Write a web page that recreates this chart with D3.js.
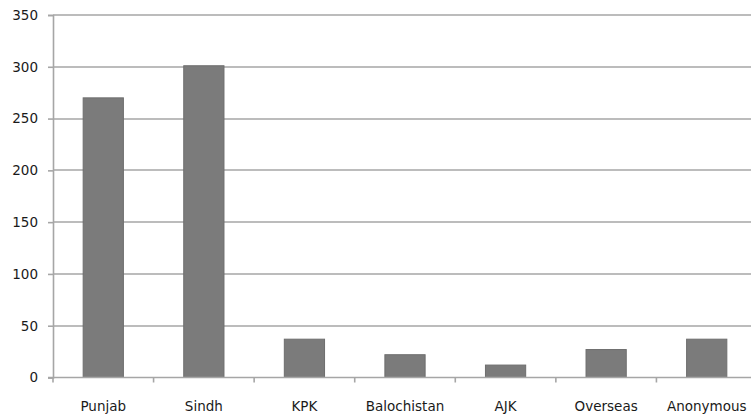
<!DOCTYPE html>
<html>
<head>
<meta charset="utf-8">
<script src="https://cdn.jsdelivr.net/npm/d3@7"></script>
<style>
  html, body { margin: 0; padding: 0; background: #fff; }
  svg { display: block; }
  .tick text { font-family: "DejaVu Sans", Verdana, sans-serif; font-size: 13.5px; fill: #1a1a1a; }
</style>
</head>
<body>
<svg id="chart" width="751" height="419"></svg>
<script>
// Complaints by region
const categories = ["Punjab", "Sindh", "KPK", "Balochistan", "AJK", "Overseas", "Anonymous"];
const values = [270, 301, 37, 22, 12, 27, 37];
const yTicks = [0, 50, 100, 150, 200, 250, 300, 350];

const svg = d3.select("#chart");
const margin = { left: 53, top: 15, bottom: 41 };
const plotRight = 757;
const height = 419;

const x = d3.scaleBand()
  .domain(categories)
  .range([margin.left, plotRight])
  .paddingInner(0.6)
  .paddingOuter(0.3);

const y = d3.scaleLinear()
  .domain([0, 350])
  .range([height - margin.bottom - 0.5, margin.top]);

// Horizontal gridlines
svg.append("g")
  .selectAll("line")
  .data(yTicks.filter(d => d > 0))
  .join("line")
  .attr("x1", margin.left)
  .attr("x2", 751)
  .attr("y1", d => Math.round(y(d)))
  .attr("y2", d => Math.round(y(d)))
  .attr("stroke", "#a6a6a6")
  .attr("stroke-width", 1.6);

// Bars
svg.append("g")
  .selectAll("rect")
  .data(categories.map((c, i) => ({ c, v: values[i] })))
  .join("rect")
  .attr("x", d => x(d.c))
  .attr("width", x.bandwidth())
  .attr("y", d => y(d.v))
  .attr("height", d => y(0) - y(d.v))
  .attr("fill", "#7b7b7b")
  .attr("stroke", "#6e6e6e")
  .attr("stroke-width", 1);

// Y axis
const yAxis = svg.append("g")
  .attr("transform", `translate(${margin.left},0)`)
  .call(d3.axisLeft(y).tickValues(yTicks).tickSize(5).tickPadding(10));
yAxis.select(".domain").attr("stroke", "#a6a6a6").attr("stroke-width", 1.6);
yAxis.selectAll(".tick line").attr("stroke", "#a6a6a6").attr("stroke-width", 1.6);

// X axis with ticks between categories
const xAxisG = svg.append("g")
  .attr("transform", `translate(0,${y(0)})`);
xAxisG.append("line")
  .attr("x1", margin.left - 5).attr("x2", 751)
  .attr("stroke", "#a6a6a6").attr("stroke-width", 1.6);
xAxisG.selectAll("line.sep")
  .data(d3.range(categories.length + 1))
  .join("line")
  .attr("class", "sep")
  .attr("x1", i => margin.left + i * (plotRight - margin.left) / categories.length)
  .attr("x2", i => margin.left + i * (plotRight - margin.left) / categories.length)
  .attr("y1", 0).attr("y2", 5)
  .attr("stroke", "#a6a6a6").attr("stroke-width", 1.6);
xAxisG.selectAll("text")
  .data(categories)
  .join("text")
  .attr("x", d => x(d) + x.bandwidth() / 2)
  .attr("y", 33)
  .attr("text-anchor", "middle")
  .attr("font-family", "DejaVu Sans, Verdana, sans-serif")
  .attr("font-size", 13.5)
  .attr("fill", "#1a1a1a")
  .text(d => d);
</script>
</body>
</html>
